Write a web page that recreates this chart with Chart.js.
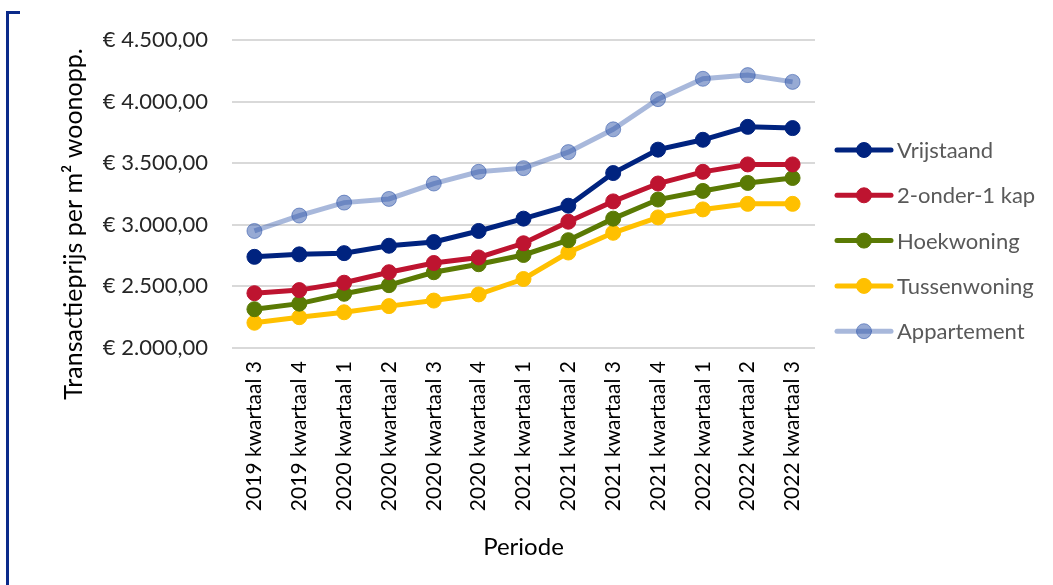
<!DOCTYPE html>
<html>
<head>
<meta charset="utf-8">
<script src="https://cdn.jsdelivr.net/npm/chart.js@4.4.0/dist/chart.umd.min.js"></script>
<style>
  html, body { margin: 0; padding: 0; background: #fff; }
  #wrap { position: relative; width: 1053px; height: 585px; }
  #bracket {
    position: absolute; left: 6px; top: 11px; width: 14px; height: 580px;
    border-left: 3px solid #0B2A8A; border-top: 3px solid #0B2A8A;
    box-sizing: border-box;
  }
  canvas { position: absolute; left: 0; top: 0; }
</style>
</head>
<body>
<div id="wrap">
  <canvas id="c" width="1053" height="585"></canvas>
  <div id="bracket"></div>
</div>
<script>
// Quarterly transaction price per m² by dwelling type
const periods = [
  '2019 kwartaal 3', '2019 kwartaal 4',
  '2020 kwartaal 1', '2020 kwartaal 2', '2020 kwartaal 3', '2020 kwartaal 4',
  '2021 kwartaal 1', '2021 kwartaal 2', '2021 kwartaal 3', '2021 kwartaal 4',
  '2022 kwartaal 1', '2022 kwartaal 2', '2022 kwartaal 3'
];
const vrijstaand    = [2740, 2760, 2770, 2830, 2860, 2950, 3050, 3155, 3420, 3610, 3690, 3795, 3785];
const tweeOnderEen  = [2445, 2470, 2530, 2615, 2690, 2735, 2850, 3025, 3190, 3335, 3430, 3490, 3490];
const hoekwoning    = [2315, 2360, 2440, 2510, 2615, 2680, 2755, 2875, 3050, 3205, 3275, 3340, 3380];
const tussenwoning  = [2205, 2250, 2290, 2340, 2385, 2435, 2560, 2775, 2935, 3060, 3125, 3170, 3170];
const appartement   = [2950, 3075, 3180, 3210, 3335, 3430, 3460, 3590, 3775, 4020, 4185, 4215, 4160];
const yTicks = [2000, 2500, 3000, 3500, 4000, 4500];

const FONT = 'Lato, "Open Sans", sans-serif';

function euro(v) {
  const s = Math.round(v).toString().replace(/\B(?=(\d{3})+(?!\d))/g, '.');
  return '€ ' + s + ',00';
}

function series(label, data, color, pointFill, pointBorder) {
  return {
    label, data,
    borderColor: color,
    backgroundColor: pointFill || color,
    pointBackgroundColor: pointFill || color,
    pointBorderColor: pointBorder || color,
    pointBorderWidth: 1,
    borderWidth: 5,
    pointRadius: 7.5,
    pointHoverRadius: 7.5,
    tension: 0,
    fill: false
  };
}

const datasets = [
  series('Vrijstaand', vrijstaand, '#00237F'),
  series('2-onder-1 kap', tweeOnderEen, '#BE1430'),
  series('Hoekwoning', hoekwoning, '#5A7A04'),
  series('Tussenwoning', tussenwoning, '#FFC000'),
  series('Appartement', appartement, 'rgba(47,85,170,0.42)', 'rgba(47,85,170,0.5)', 'rgba(47,85,170,0.55)')
];
// the light series sits behind the others
datasets[4].order = 10;

// Right-hand legend with a line-and-marker swatch per series
const sideLegend = {
  id: 'sideLegend',
  afterDraw(chart) {
    const ctx = chart.ctx;
    const x0 = 837, x1 = 891, top = 150, step = 45.3;
    ctx.save();
    datasets.forEach((ds, i) => {
      const y = top + i * step;
      ctx.lineCap = 'round';
      ctx.strokeStyle = ds.borderColor;
      ctx.lineWidth = 5;
      ctx.beginPath(); ctx.moveTo(x0, y); ctx.lineTo(x1, y); ctx.stroke();
      ctx.beginPath();
      ctx.arc((x0 + x1) / 2, y, 7.5, 0, Math.PI * 2);
      ctx.fillStyle = ds.pointBackgroundColor;
      ctx.fill();
      ctx.lineWidth = 1;
      ctx.strokeStyle = ds.pointBorderColor;
      ctx.stroke();
      ctx.fillStyle = '#595959';
      ctx.font = '22px ' + FONT;
      ctx.textAlign = 'left';
      ctx.textBaseline = 'middle';
      ctx.fillText(ds.label, 897, y + 1);
    });
    ctx.restore();
  }
};

// Vertical axis title, centred on the plot plus its category labels
const yTitle = {
  id: 'yTitle',
  afterDraw(chart) {
    const ctx = chart.ctx;
    ctx.save();
    ctx.translate(74, 224);
    ctx.rotate(-Math.PI / 2);
    ctx.fillStyle = '#000';
    ctx.font = '25px ' + FONT;
    ctx.textAlign = 'center';
    ctx.textBaseline = 'middle';
    ctx.fillText('Transactieprijs per m\u00B2 woonopp.', 0, 0);
    ctx.restore();
  }
};

new Chart(document.getElementById('c'), {
  type: 'line',
  data: { labels: periods, datasets },
  options: {
    responsive: false,
    animation: false,
    events: [],
    layout: { padding: { top: 40, right: 238, bottom: 0, left: 0 } },
    plugins: { legend: { display: false }, tooltip: { enabled: false } },
    scales: {
      x: {
        offset: true,
        grid: { display: false, drawTicks: false },
        border: { display: false },
        ticks: {
          color: '#000',
          font: { family: FONT, size: 21 },
          minRotation: 90, maxRotation: 90,
          padding: 13,
          autoSkip: false
        },
        title: {
          display: true, text: 'Periode', color: '#000',
          font: { family: FONT, size: 24 },
          padding: { top: 0, bottom: 23 }
        },
        afterFit(scale) { scale.height = 585 - 348; }
      },
      y: {
        min: 2000, max: 4500,
        afterBuildTicks(scale) { scale.ticks = yTicks.map(v => ({ value: v })); },
        grid: { color: '#D9D9D9', lineWidth: 2, drawTicks: false },
        border: { display: false },
        ticks: {
          color: '#262626',
          font: { family: FONT, size: 22 },
          padding: 24,
          callback: v => euro(v)
        },
        afterFit(scale) { scale.width = 232; }
      }
    }
  },
  plugins: [sideLegend, yTitle]
});
</script>
</body>
</html>
